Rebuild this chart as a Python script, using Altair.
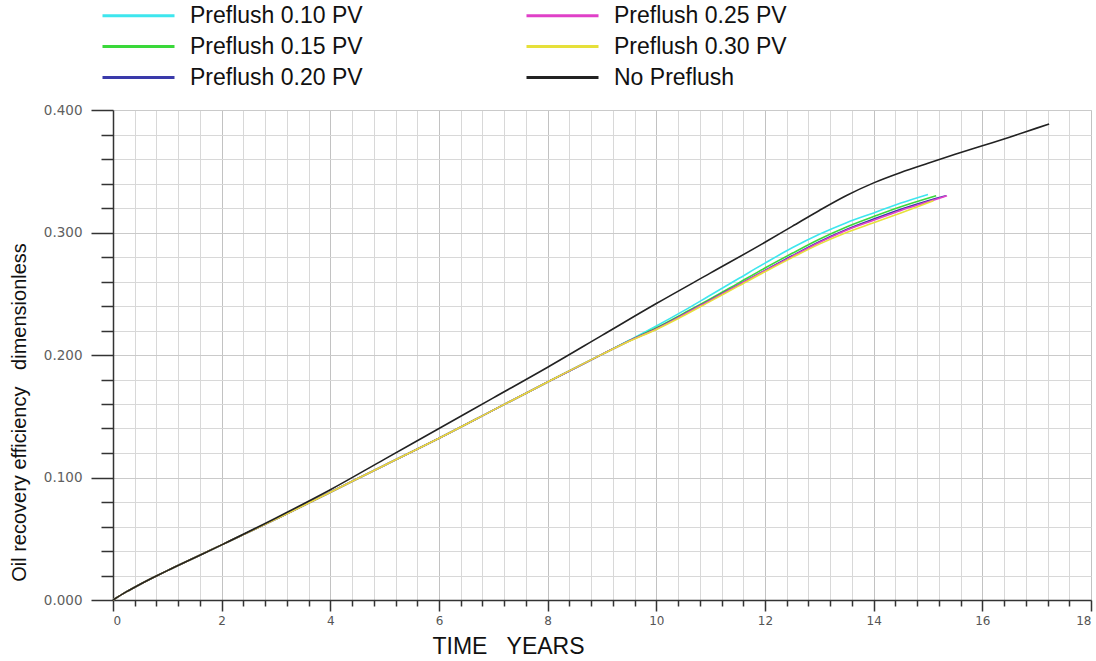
import altair as alt
import pandas as pd

# Oil recovery efficiency vs. time for several preflush volumes
legend_order = [
    "Preflush 0.10 PV",
    "Preflush 0.15 PV",
    "Preflush 0.20 PV",
    "Preflush 0.25 PV",
    "Preflush 0.30 PV",
    "No Preflush",
]
series_colors = {
    "Preflush 0.10 PV": "#3ee6ee",
    "Preflush 0.15 PV": "#3ad83a",
    "Preflush 0.20 PV": "#3a3aaa",
    "Preflush 0.25 PV": "#e040c8",
    "Preflush 0.30 PV": "#e6e03a",
    "No Preflush": "#222222",
}
# drawing order: later series are painted on top
draw_order = legend_order

# shared early part of all preflush runs
common_t = [0, 0.25, 0.5, 0.75, 1, 1.5, 2, 3, 4, 5, 6, 7, 8, 9]
common_v = [0, 0.0068, 0.0128, 0.0185, 0.024, 0.0345, 0.045, 0.066, 0.088,
            0.110, 0.132, 0.155, 0.178, 0.2005]

tail_t = [9.5, 10, 10.5, 11, 11.5, 12, 12.5, 13, 13.5, 14, 14.5]
pf010_t = tail_t + [15.0]
pf010_v = [0.2120, 0.2237, 0.236, 0.249, 0.262, 0.275, 0.2875, 0.2985, 0.308, 0.316, 0.324, 0.331]
pf015_t = tail_t + [15.15]
pf015_v = [0.2117, 0.2222, 0.234, 0.246, 0.2585, 0.271, 0.283, 0.2945, 0.3045, 0.3130, 0.321, 0.330]
pf020_t = tail_t + [15.0, 15.33]
pf020_v = [0.2115, 0.2215, 0.233, 0.245, 0.257, 0.269, 0.281, 0.2925, 0.3025, 0.311, 0.319, 0.326, 0.330]
pf025_t = tail_t + [15.0, 15.35]
pf025_v = [0.2115, 0.2213, 0.2328, 0.2448, 0.2568, 0.2688, 0.2805, 0.2918, 0.3018, 0.310, 0.318, 0.325, 0.330]
pf030_t = tail_t + [15.1]
pf030_v = [0.2112, 0.2208, 0.232, 0.244, 0.256, 0.268, 0.2795, 0.2905, 0.3000, 0.308, 0.316, 0.326]

nopf_t = [0, 0.25, 0.5, 0.75, 1, 1.5, 2, 3, 4, 5, 6, 7, 8, 9, 10, 11, 12,
          12.5, 13, 13.5, 14, 14.5, 15, 15.5, 16, 16.5, 17, 17.23]
nopf_v = [0, 0.0068, 0.0128, 0.0185, 0.024, 0.0345, 0.045, 0.067, 0.090,
          0.115, 0.140, 0.165, 0.190, 0.216, 0.242, 0.267, 0.292, 0.305,
          0.318, 0.3302, 0.3405, 0.349, 0.3565, 0.3638, 0.3708, 0.3778,
          0.3852, 0.3885]

curves = {
    "Preflush 0.30 PV": (common_t + pf030_t, common_v + pf030_v),
    "Preflush 0.25 PV": (common_t + pf025_t, common_v + pf025_v),
    "Preflush 0.20 PV": (common_t + pf020_t, common_v + pf020_v),
    "Preflush 0.15 PV": (common_t + pf015_t, common_v + pf015_v),
    "Preflush 0.10 PV": (common_t + pf010_t, common_v + pf010_v),
    "No Preflush": (nopf_t, nopf_v),
}

rows = []
for name in draw_order:
    ts, vs = curves[name]
    for t, v in zip(ts, vs):
        rows.append({"series": name, "t": t, "v": v})
df = pd.DataFrame(rows)

x_ticks = [round(i * 0.4, 1) for i in range(46)]
y_ticks = [round(i * 0.02, 2) for i in range(21)]

x_major = "abs(datum.value / 2 - round(datum.value / 2)) < 1e-6"
y_major = "abs(datum.value * 10 - round(datum.value * 10)) < 1e-6"

x_axis = alt.Axis(
    values=x_ticks,
    title="TIME\u00a0\u00a0\u00a0YEARS",
    titleFont="Liberation Sans", titleFontSize=23, titleFontWeight="normal",
    titleColor="#111111",
    titleX=395, titleY=46, titleAlign="center", titleBaseline="middle",
    labelExpr=f"{x_major} ? format(datum.value, 'd') : ''",
    labelFont="DejaVu Sans", labelFontSize=12, labelColor="#555555",
    labelPadding=4, labelOverlap=False, labelFlush=True,
    tickSize=alt.ConditionalAxisNumber(condition={"test": x_major, "value": 11}, value=6),
    tickColor="#333333", tickWidth=1.5,
    domainColor="#333333", domainWidth=1.5,
    grid=True,
    gridColor=alt.ConditionalAxisColor(condition={"test": x_major, "value": "#c2c2c2"}, value="#d8d8d8"),
    gridWidth=1,
)
y_axis = alt.Axis(
    values=y_ticks,
    title="Oil recovery efficiency\u00a0\u00a0\u00a0dimensionless",
    titleFont="Liberation Sans", titleFontSize=20, titleFontWeight="normal",
    titleColor="#111111",
    titleX=-94, titleY=302, titleAngle=270, titleAlign="center", titleBaseline="middle",
    labelExpr=f"{y_major} ? format(datum.value, '.3f') : ''",
    labelFont="DejaVu Sans", labelFontSize=13.5, labelColor="#606060",
    labelPadding=9, labelOverlap=False, labelFlush=False,
    tickSize=alt.ConditionalAxisNumber(condition={"test": y_major, "value": 22}, value=12),
    tickColor="#333333", tickWidth=1.5,
    domainColor="#333333", domainWidth=1.5,
    grid=True,
    gridColor=alt.ConditionalAxisColor(condition={"test": y_major, "value": "#cacaca"}, value="#d8d8d8"),
    gridWidth=1,
)

chart = (
    alt.Chart(df)
    .mark_line(strokeWidth=1.6, interpolate="monotone")
    .encode(
        x=alt.X("t:Q", scale=alt.Scale(domain=[0, 18], nice=False, zero=False), axis=x_axis),
        y=alt.Y("v:Q", scale=alt.Scale(domain=[0, 0.4], nice=False), axis=y_axis),
        color=alt.Color(
            "series:N",
            scale=alt.Scale(domain=legend_order, range=[series_colors[n] for n in legend_order]),
            legend=alt.Legend(
                title=None, orient="none", legendX=14, legendY=-106,
                columns=2, columnPadding=157, rowPadding=7,
                symbolType="M-4,0H4", symbolSize=324, symbolStrokeWidth=3,
                symbolFillColor="transparent",
                labelFont="Liberation Sans", labelFontSize=23, labelColor="#111111",
                labelOffset=40, labelLimit=400,
            ),
        ),
        detail="series:N",
        order="t:Q",
    )
    .properties(
        width=978, height=490,
        autosize=alt.AutoSizeParams(type="none"),
        padding={"left": 113, "top": 110, "right": 5, "bottom": 61},
    )
    .configure_view(stroke=None)
    .configure(background="white")
)

chart.save("out.html", embed_options={"renderer": "svg", "actions": False})
